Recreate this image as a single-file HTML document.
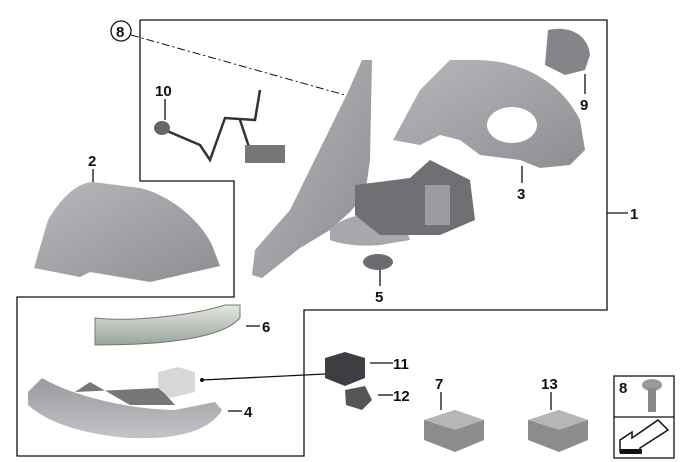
<!DOCTYPE html>
<html><head><style>body{margin:0;background:#fff}svg{display:block}text{font-family:"Liberation Sans",sans-serif;font-weight:bold;font-size:15px;fill:#111}</style></head>
<body>
<svg width="680" height="462" viewBox="0 0 680 462" xmlns="http://www.w3.org/2000/svg">
<defs>
<linearGradient id="g1" x1="0" y1="0" x2="1" y2="1"><stop offset="0" stop-color="#b8b8bc"/><stop offset="1" stop-color="#8e8e92"/></linearGradient>
<linearGradient id="g2" x1="0" y1="0" x2="0" y2="1"><stop offset="0" stop-color="#9a9a9e"/><stop offset="1" stop-color="#c4c4c8"/></linearGradient>
<linearGradient id="g3" x1="0" y1="0" x2="0" y2="1"><stop offset="0" stop-color="#e4e8e0"/><stop offset="1" stop-color="#9aa49a"/></linearGradient>
</defs>
<g fill="none" stroke="#111" stroke-width="1.3">
<polyline points="140,20 140,181 234,181 234,297 17,297 17,456 304,456 304,310 607,310 607,20 140,20"/>
<line x1="607" y1="213" x2="628" y2="213"/>
<circle cx="121" cy="31" r="10"/>
<line x1="131" y1="35" x2="345" y2="95" stroke-dasharray="8,3,2,3" stroke-width="1"/>
<line x1="165" y1="99" x2="165" y2="120"/>
<line x1="93" y1="169" x2="93" y2="182"/>
<line x1="522" y1="183" x2="522" y2="166"/>
<line x1="585" y1="94" x2="585" y2="74"/>
<line x1="380" y1="286" x2="380" y2="267"/>
<line x1="246" y1="326" x2="260" y2="326"/>
<line x1="370" y1="363" x2="393" y2="363"/>
<line x1="378" y1="395" x2="393" y2="395"/>
<line x1="228" y1="411" x2="242" y2="411"/>
<line x1="202" y1="380" x2="325" y2="374"/>
<line x1="441" y1="392" x2="441" y2="410"/>
<line x1="551" y1="392" x2="551" y2="410"/>
<rect x="614" y="376" width="60" height="82"/>
<line x1="614" y1="417" x2="674" y2="417"/>
</g>
<circle cx="202" cy="380" r="2" fill="#111"/>
<!-- cap 2 -->
<path d="M93,182 C75,183 60,200 48,220 L34,268 L80,277 L90,272 L150,282 L220,266 L212,245 C200,220 170,195 140,188 Z" fill="url(#g1)"/>
<!-- mirror base -->
<path d="M348,92 L362,60 L372,60 L370,160 L365,195 L350,212 L330,230 L300,248 L262,278 L252,275 L255,250 L290,210 Z" fill="url(#g1)"/>
<path d="M330,230 C340,218 360,212 400,212 L410,240 L380,245 C360,247 340,244 330,240 Z" fill="#a8a8ac"/>
<path d="M355,185 L410,178 L430,160 L470,180 L475,220 L440,235 L380,235 L355,215 Z" fill="#6f6f74"/>
<rect x="425" y="185" width="25" height="40" fill="#9c9ca0"/>
<!-- housing 3 -->
<path d="M393,140 L420,90 L450,60 L475,60 C520,60 560,80 580,120 L585,150 L570,165 L540,168 L520,160 L480,155 L460,140 L440,135 L420,145 Z" fill="url(#g1)"/>
<ellipse cx="512" cy="125" rx="25" ry="18" fill="#fff"/>
<!-- motor 9 -->
<path d="M548,30 C570,25 588,35 590,55 L585,70 L565,75 L545,65 Z" fill="#858589"/>
<!-- harness 10 -->
<g stroke="#333" stroke-width="2.5" fill="none"><path d="M160,128 L200,145 L210,160 L225,118 L255,120 L260,90"/><path d="M240,120 L250,150 L265,160"/></g>
<ellipse cx="162" cy="128" rx="8" ry="7" fill="#666"/>
<rect x="245" y="145" width="40" height="18" fill="#777"/>
<!-- cover 5 -->
<ellipse cx="378" cy="262" rx="15" ry="8" fill="#6c6c70"/>
<!-- turn signal 6 -->
<path d="M95,318 C130,322 190,316 225,305 L240,305 L240,318 C225,335 180,345 95,345 Z" fill="url(#g3)" stroke="#777"/>
<!-- trim 4 -->
<path d="M28,392 L42,378 C70,395 130,410 175,410 L215,402 L222,410 C210,430 180,440 130,438 C90,435 50,425 28,405 Z" fill="url(#g2)"/>
<path d="M75,392 L90,382 L130,405 L175,405 L160,388 Z" fill="#777"/>
<!-- sensors -->
<path d="M158,372 L178,367 L195,372 L195,392 L170,398 L158,388 Z" fill="#d8d8d8"/>
<path d="M325,358 L345,352 L365,358 L365,378 L345,386 L325,378 Z" fill="#3e3e42"/>
<path d="M345,390 L365,386 L372,400 L362,410 L346,405 Z" fill="#555"/>
<!-- boxes -->
<path d="M424,420 L455,410 L484,420 L484,440 L455,452 L424,440 Z" fill="#8c8c8c"/>
<path d="M424,420 L455,410 L484,420 L455,430 Z" fill="#b6b6b6"/>
<path d="M528,420 L559,410 L588,420 L588,440 L559,452 L528,440 Z" fill="#8c8c8c"/>
<path d="M528,420 L559,410 L588,420 L559,430 Z" fill="#b6b6b6"/>
<!-- screw -->
<ellipse cx="652" cy="385" rx="10" ry="6" fill="#999"/>
<rect x="648" y="388" width="8" height="24" fill="#888"/>
<path d="M620,440 L632,432 L632,438 L658,420 L668,430 L640,448 L640,452 L620,452 Z" fill="#fff" stroke="#111" stroke-width="1.5"/>
<rect x="620" y="449" width="22" height="5" fill="#111"/>
<text x="116" y="37" font-size="13">8</text>
<text x="155" y="96">10</text>
<text x="88" y="166">2</text>
<text x="580" y="110">9</text>
<text x="517" y="199">3</text>
<text x="630" y="219">1</text>
<text x="375" y="302">5</text>
<text x="262" y="332">6</text>
<text x="393" y="369">11</text>
<text x="393" y="401">12</text>
<text x="244" y="417">4</text>
<text x="435" y="389">7</text>
<text x="541" y="389">13</text>
<text x="619" y="393">8</text>
</svg>
</body></html>
